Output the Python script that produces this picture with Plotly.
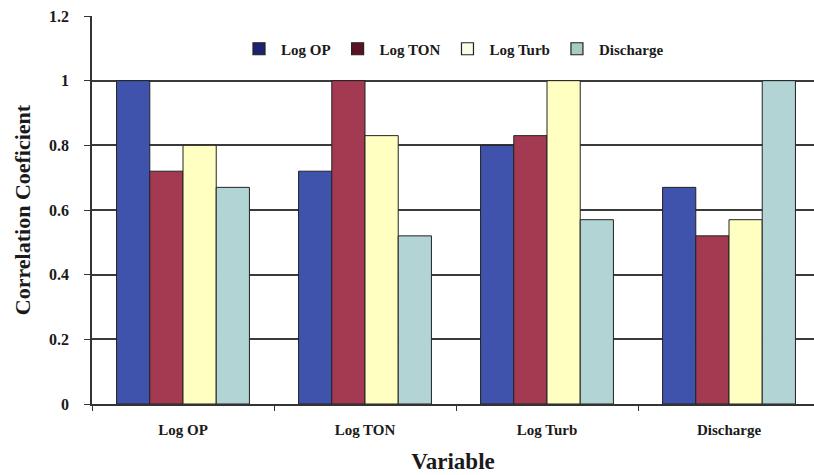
import plotly.graph_objects as go

# Correlation matrix between the four monitored variables
variables = ["Log OP", "Log TON", "Log Turb", "Discharge"]
log_op = [1.0, 0.72, 0.80, 0.67]
log_ton = [0.72, 1.0, 0.83, 0.52]
log_turb = [0.80, 0.83, 1.0, 0.57]
discharge = [0.67, 0.52, 0.57, 1.0]

# name, values, bar fill, legend swatch fill
series = [
    ("Log OP", log_op, "#3f53ad", "#1e2370"),
    ("Log TON", log_ton, "#a33a52", "#5c1222"),
    ("Log Turb", log_turb, "#ffffc2", "#fbfbe6"),
    ("Discharge", discharge, "#b2d4d4", "#a9cbc6"),
]

serif = "Liberation Serif, Times New Roman, serif"

fig = go.Figure()
for name, vals, color, swatch in series:
    fig.add_trace(go.Bar(
        name=name, x=variables, y=vals, showlegend=False,
        marker=dict(color=color, line=dict(color="#222222", width=1)),
    ))
    # legend entry drawn as a square marker
    fig.add_trace(go.Scatter(
        name=name, x=[None], y=[None], mode="markers",
        marker=dict(symbol="square", size=12, color=swatch,
                    line=dict(color="#222222", width=1.2)),
    ))

fig.update_layout(
    width=814, height=475,
    margin=dict(l=92, r=0, t=16, b=71),
    paper_bgcolor="white", plot_bgcolor="white",
    barmode="group", bargap=0.27, bargroupgap=0,
    font=dict(family=serif, color="#1a1a1a"),
    legend=dict(
        orientation="h", x=0.5, xanchor="center", y=0.915, yanchor="middle",
        font=dict(family=serif, size=15, color="#1a1a1a", weight="bold"),
        itemwidth=34, traceorder="normal", tracegroupgap=0,
    ),
    xaxis=dict(
        range=[-0.5, 3.467],
        showline=True, linecolor="#333333", linewidth=1.5,
        ticks="outside", tickson="boundaries", ticklen=5, tickcolor="#333333",
        tickfont=dict(family=serif, size=15, weight="bold"),
        ticklabelstandoff=11,
        title=dict(text="Variable", font=dict(family=serif, size=23, weight="bold"), standoff=16),
        showgrid=False,
    ),
    yaxis=dict(
        range=[0, 1.2], dtick=0.2, tickformat="~g",
        showline=True, linecolor="#333333", linewidth=1.5,
        ticks="outside", ticklen=6, tickcolor="#333333",
        showgrid=True, gridcolor="#3a3a3a", gridwidth=1.5,
        tickfont=dict(family=serif, size=16, weight="bold"),
        ticklabelstandoff=12,
        title=dict(text="Correlation Coeficient", font=dict(family=serif, size=22, weight="bold"), standoff=12),
        zeroline=False,
    ),
)

fig.write_html("out.html")
